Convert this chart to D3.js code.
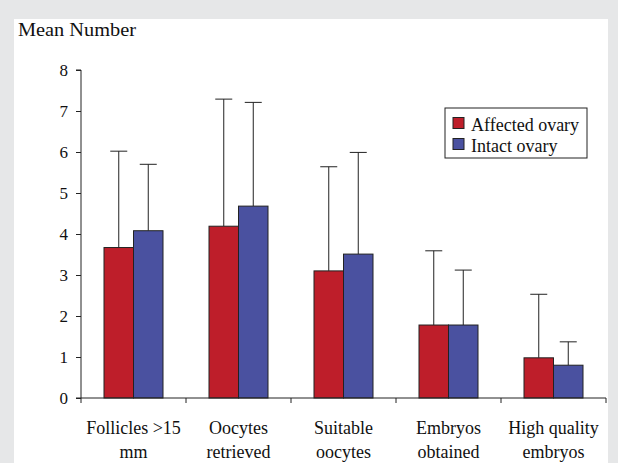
<!DOCTYPE html>
<html>
<head>
<meta charset="utf-8">
<script src="https://cdn.jsdelivr.net/npm/d3@7"></script>
<style>
  html, body { margin: 0; padding: 0; background: #e6e7e8; }
  svg { display: block; }
</style>
</head>
<body>
<svg id="chart"></svg>
<script>
// data
const categories = [
  ['Follicles >15', 'mm'],
  ['Oocytes', 'retrieved'],
  ['Suitable', 'oocytes'],
  ['Embryos', 'obtained'],
  ['High quality', 'embryos']
];
const seriesNames = ['Affected ovary', 'Intact ovary'];
const affectedMean = [3.67, 4.19, 3.10, 1.78, 0.98];
const affectedErr  = [2.35, 3.10, 2.54, 1.81, 1.55];
const intactMean   = [4.08, 4.68, 3.51, 1.78, 0.80];
const intactErr    = [1.62, 2.53, 2.48, 1.34, 0.57];
const yTicks = [0, 1, 2, 3, 4, 5, 6, 7, 8];

const W = 618, H = 463;
const SERIF = '"Liberation Serif"';
const COLORS = ['#be1e2a', '#4a51a0'];

const svg = d3.select('#chart').attr('width', W).attr('height', H);

svg.append('rect').attr('width', W).attr('height', H).attr('fill', '#e6e7e8');
// white panel
svg.append('rect').attr('x', 14).attr('y', 19).attr('width', 594).attr('height', H - 19).attr('fill', '#fff');

svg.append('text')
  .attr('x', 18).attr('y', 36)
  .attr('font-size', 19).attr('fill', '#111')
  .attr('textLength', 118).attr('lengthAdjust', 'spacingAndGlyphs')
  .style('font-family', SERIF)
  .text('Mean Number');

const x0 = d3.scaleBand().domain(d3.range(categories.length)).range([81, 606]);
const x1 = d3.scaleBand().domain([0, 1]).range([0, 59]);
const y = d3.scaleLinear().domain([0, 8]).range([398, 70]);

const series = [
  { mean: affectedMean, err: affectedErr },
  { mean: intactMean, err: intactErr }
];

const groups = svg.append('g').selectAll('g')
  .data(categories.map((c, i) => i))
  .join('g')
  .attr('transform', i => `translate(${x0(i) + (x0.bandwidth() - 59) / 2},0)`);

series.forEach((s, si) => {
  // error bars (upper only)
  groups.append('line')
    .attr('x1', x1(si) + x1.bandwidth() / 2)
    .attr('x2', x1(si) + x1.bandwidth() / 2)
    .attr('y1', i => y(s.mean[i]))
    .attr('y2', i => y(s.mean[i] + s.err[i]))
    .attr('stroke', '#222').attr('stroke-width', 1);
  groups.append('line')
    .attr('x1', x1(si) + x1.bandwidth() / 2 - 8.5)
    .attr('x2', x1(si) + x1.bandwidth() / 2 + 8.5)
    .attr('y1', i => y(s.mean[i] + s.err[i]))
    .attr('y2', i => y(s.mean[i] + s.err[i]))
    .attr('stroke', '#222').attr('stroke-width', 1);
  groups.append('rect')
    .attr('x', x1(si))
    .attr('y', i => y(s.mean[i]))
    .attr('width', x1.bandwidth())
    .attr('height', i => y(0) - y(s.mean[i]))
    .attr('fill', COLORS[si])
    .attr('stroke', '#222').attr('stroke-width', 1);
});

// y axis: d3 axis for line and ticks, labels drawn with the same scale
const yAxis = svg.append('g').attr('transform', 'translate(81,0)')
  .call(d3.axisLeft(y).tickValues(yTicks).tickSize(5).tickFormat(''));
yAxis.select('.domain').attr('stroke', '#222').attr('d', 'M-5,70H0V398');
yAxis.selectAll('line').attr('stroke', '#222');

svg.append('g').selectAll('text')
  .data(yTicks)
  .join('text')
  .attr('x', 68)
  .attr('y', d => y(d) + 6)
  .attr('text-anchor', 'end')
  .attr('font-size', 17).attr('fill', '#111')
  .style('font-family', SERIF)
  .text(d => d);

// x axis
const xAxisG = svg.append('g').attr('transform', 'translate(0,398)');
xAxisG.append('line').attr('x1', 76).attr('x2', 606).attr('stroke', '#222');
xAxisG.selectAll('.tk')
  .data(d3.range(categories.length + 1))
  .join('line')
  .attr('x1', i => i < categories.length ? x0(i) : x0.range()[1])
  .attr('x2', i => i < categories.length ? x0(i) : x0.range()[1])
  .attr('y1', 0).attr('y2', 5)
  .attr('stroke', '#222');
xAxisG.selectAll('.lbl')
  .data(categories)
  .join('text')
  .attr('text-anchor', 'middle')
  .attr('font-size', 18).attr('fill', '#111')
  .style('font-family', SERIF)
  .each(function (c, i) {
    const t = d3.select(this);
    c.forEach((line, k) => {
      t.append('tspan')
        .attr('x', x0(i) + x0.bandwidth() / 2)
        .attr('y', 36 + k * 24)
        .text(line);
    });
  });

// legend
const lg = svg.append('g').attr('transform', 'translate(445,108)');
lg.append('rect').attr('width', 142).attr('height', 50).attr('fill', '#fff').attr('stroke', '#222');
seriesNames.forEach((n, i) => {
  lg.append('rect').attr('x', 8).attr('y', 9.5 + i * 21).attr('width', 11).attr('height', 11)
    .attr('fill', COLORS[i]).attr('stroke', '#222');
  lg.append('text').attr('x', 26).attr('y', 23 + i * 21)
    .attr('font-size', 18).attr('fill', '#111')
    .style('font-family', SERIF)
    .text(n);
});
</script>
</body>
</html>
